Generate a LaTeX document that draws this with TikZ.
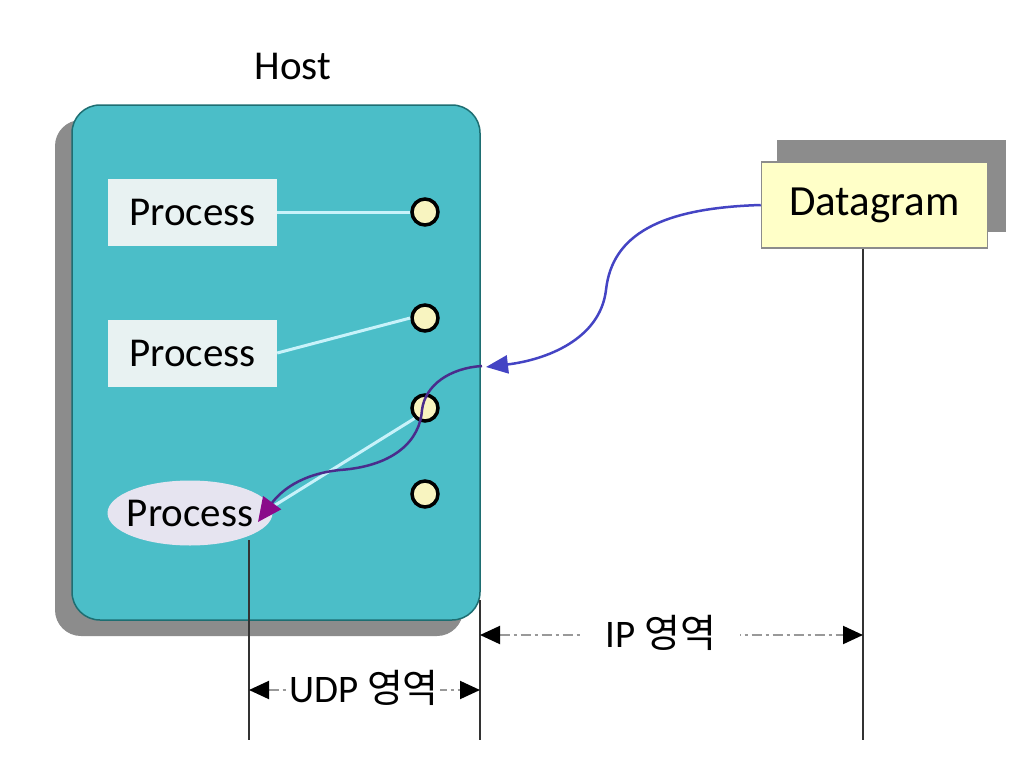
\documentclass[tikz,border=0pt]{standalone}
\usepackage{fontspec}
\setmainfont{Carlito}
\newfontfamily\krfont{Noto Sans CJK KR}
\usetikzlibrary{arrows.meta,shapes.geometric}
\definecolor{hostfill}{HTML}{4BBEC8}
\definecolor{hostedge}{HTML}{1E6E72}
\definecolor{shadowgray}{HTML}{8C8C8C}
\definecolor{procfill}{HTML}{E8F2F2}
\definecolor{ellfill}{HTML}{E6E4F0}
\definecolor{portfill}{HTML}{F8F4C0}
\definecolor{dgfill}{HTML}{FFFFC8}
\definecolor{linkcol}{HTML}{C8F2FA}
\definecolor{bluecurve}{HTML}{4444C4}
\definecolor{purplecurve}{HTML}{4A2C8C}
\definecolor{purpletip}{HTML}{8A0A8A}
\tikzset{
  bigtext/.style={font=\fontsize{41}{48}\selectfont},
  procbox/.style={rectangle, fill=procfill, minimum width=169pt, minimum height=67pt, inner sep=0pt, bigtext},
  port/.style={circle, fill=portfill, draw=black, line width=3.5pt, minimum size=26pt, inner sep=0pt},
  link/.style={draw=linkcol, line width=3pt},
  vline/.style={draw=black!80, line width=2pt},
  dimline/.style={draw=black!40, line width=2pt, dash pattern=on 10pt off 4pt on 3pt off 4pt, {Triangle[length=20pt,width=18pt,black]}-{Triangle[length=20pt,width=18pt,black]}},
  dimtext/.style={fill=white, inner sep=4pt, font=\fontsize{39}{46}\selectfont}
}
\begin{document}
\begin{tikzpicture}[x=1pt,y=-1pt]
\useasboundingbox[fill=white] (0,0) rectangle (1031,768);
% host shadow and box
\fill[shadowgray, rounded corners=26pt] (55,120) rectangle (463,636);
\draw[fill=hostfill, draw=hostedge, line width=1.5pt, rounded corners=28pt] (72,105) rectangle (480,620);
\node[font=\fontsize{41}{48}\selectfont] (host) at (293,66) {Host};
% processes
\node[procbox] (pr1) at (192.5,212) {Process};
\node[procbox] (pr2) at (192.5,353) {Process};
\node[ellipse, fill=ellfill, minimum width=165pt, minimum height=65pt, inner sep=0pt, bigtext] (pr3) at (190,513) {\makebox[0pt]{Process}};
% ports
\node[port] (c1) at (425,212) {};
\node[port] (c2) at (425,318) {};
\node[port] (c3) at (425,408) {};
\node[port] (c4) at (425,494) {};
\draw[link] (pr1.east) -- (c1.west);
\draw[link] (pr2.east) -- (c2.west);
\coordinate (pr3e) at (264,512);
\draw[link] (pr3e) -- (c3.south west);
% datagram
\fill[shadowgray] (777,140) rectangle (1006,232);
\node[rectangle, fill=dgfill, draw=black!45, line width=1.5pt, minimum width=226pt, minimum height=86pt, inner sep=0pt, font=\fontsize{43}{50}\selectfont] (dg) at (874.5,205) {Datagram};
% vertical lines
\coordinate (vl1t) at (249,540);
\coordinate (vl1b) at (249,740);
\coordinate (vl2t) at (480,600);
\coordinate (vl2b) at (480,740);
\coordinate (vl3b) at (863,740);
\draw[vline] (vl1t) -- (vl1b);
\draw[vline] (vl2t) -- (vl2b);
\draw[vline] (dg.south -| vl3b) -- (vl3b);
% dimension arrows
\coordinate (ipl) at (480,635);
\coordinate (ipr) at (863,635);
\draw[dimline] (ipl) -- (ipr);
\node[dimtext, inner xsep=24pt] (iplab) at (661,633) {IP {\krfont 영역}};
\coordinate (udpl) at (249,690);
\coordinate (udpr) at (480,690);
\draw[dimline] (udpl) -- (udpr);
\node[dimtext, inner sep=1pt] (udplab) at (364,688) {UDP {\krfont 영역}};
% datagram curve
\coordinate (entry) at (486,367);
\draw[bluecurve, line width=2.5pt, -{Triangle[length=22pt,width=18pt]}] (dg.west) .. controls (660,208) and (612,235) .. (606,290) .. controls (600,340) and (545,360) .. (entry);
% inner curve to process
\coordinate (tip) at (258,522);
\draw[purplecurve, line width=2.5pt, -{Triangle[length=24pt,width=22pt,purpletip]}] (482,366) .. controls (450,368) and (425,385) .. (422,410) .. controls (420,440) and (395,466) .. (340,470) .. controls (300,474) and (280,492) .. (tip);
\end{tikzpicture}
\end{document}
